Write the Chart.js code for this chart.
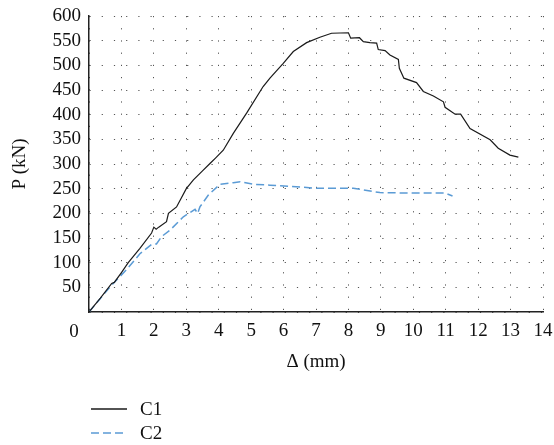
<!DOCTYPE html>
<html>
<head>
<meta charset="utf-8">
<style>
  html, body { margin: 0; padding: 0; background: #fff; }
  #wrap { width: 554px; height: 445px; }
</style>
</head>
<body>
<div id="wrap">
  <canvas id="curve"></canvas>
</div>

<script src="https://cdn.jsdelivr.net/npm/chart.js"></script>

<script>
  // load-displacement readings (delta in mm, P in kN)
  const c1X = [0, 0.35, 0.7, 0.78, 1.0, 1.21, 1.57, 1.93, 2.0, 2.07, 2.15, 2.39, 2.45, 2.7, 3.0, 3.22, 3.5, 3.73, 3.9, 4.14, 4.45, 4.86, 5.37, 5.58, 5.99, 6.3, 6.71, 7.12, 7.48, 8.0, 8.07, 8.34, 8.46, 8.66, 8.87, 8.92, 9.13, 9.28, 9.54, 9.57, 9.71, 10.1, 10.31, 10.62, 10.93, 10.98, 11.29, 11.46, 11.75, 12.37, 12.62, 12.98, 13.24];
  const c1Y = [0, 28, 58, 60, 80, 100, 129, 160, 172, 168, 172, 183, 200, 213, 250, 268, 286, 301, 312, 328, 362, 403, 457, 474, 504, 528, 546, 557, 565, 566, 555, 556, 548, 546, 545, 532, 530, 521, 512, 494, 474, 465, 447, 438, 426, 415, 401, 401, 372, 349, 332, 318, 314];

  const c2X = [0, 0.65, 1.16, 1.57, 1.93, 2.08, 2.24, 2.5, 2.91, 3.27, 3.35, 3.42, 3.68, 4.04, 4.45, 4.66, 5.07, 5.58, 7.02, 8.15, 8.97, 10.0, 10.98, 11.21];
  const c2Y = [0, 51, 86, 118, 137, 138, 153, 166, 193, 208, 200, 213, 237, 259, 262, 264, 259, 257, 251, 251, 242, 241, 241, 235];

  const seriesNames = ['C1', 'C2'];
  const xTitle = 'Δ (mm)';
  const yTitle = 'P (kN)';

  const pts = (xs, ys) => xs.map((x, i) => ({ x: x, y: ys[i] }));
  const serif = "'Liberation Serif', 'DejaVu Serif', serif";
  const fs = 19;

  // origin "0" and the stacked legend under the axis title
  const extras = {
    id: 'extras',
    afterDraw(chart) {
      const { ctx, chartArea } = chart;
      ctx.save();
      ctx.font = fs + 'px ' + serif;
      ctx.fillStyle = '#111';
      ctx.textBaseline = 'middle';
      ctx.textAlign = 'center';
      ctx.fillText('0', chartArea.left - 15, chartArea.bottom + 20);

      ctx.textAlign = 'left';
      chart.data.datasets.forEach((ds, i) => {
        const y = 409 + i * 24;
        ctx.beginPath();
        ctx.strokeStyle = ds.borderColor;
        ctx.lineWidth = 1.5;
        ctx.setLineDash(ds.borderDash || []);
        ctx.moveTo(91, y);
        ctx.lineTo(127, y);
        ctx.stroke();
        ctx.setLineDash([]);
        ctx.fillText(ds.label, 140, y + 1);
      });
      ctx.restore();
    }
  };

  new Chart(document.getElementById('curve'), {
    type: 'scatter',
    data: {
      datasets: [{
        label: seriesNames[0],
        data: pts(c1X, c1Y),
        showLine: true,
        borderColor: '#1a1a1a',
        borderWidth: 1.2,
        pointRadius: 0,
        tension: 0
      }, {
        label: seriesNames[1],
        data: pts(c2X, c2Y),
        showLine: true,
        borderColor: '#5b9bd5',
        borderWidth: 1.5,
        borderDash: [8, 4],
        pointRadius: 0,
        tension: 0
      }]
    },
    options: {
      responsive: true,
      maintainAspectRatio: false,
      animation: false,
      layout: { padding: { top: 16, right: 11, bottom: 53, left: 0 } },
      plugins: {
        legend: { display: false },
        tooltip: { enabled: false }
      },
      scales: {
        x: {
          type: 'linear',
          min: 0,
          max: 14,
          afterFit: (s) => {
            s.height = 80;
            s.paddingLeft = 0;
            s.paddingRight = 0;
          },
          ticks: {
            stepSize: 1,
            autoSkip: false,
            maxRotation: 0,
            padding: 8,
            color: '#111',
            font: { family: serif, size: fs },
            callback: (v) => (v === 0 ? '' : v)
          },
          grid: { color: '#555', lineWidth: 1, drawTicks: false },
          border: { display: true, color: '#222', width: 1.5, dash: [1.2, 11] },
          title: {
            display: true,
            text: xTitle,
            color: '#111',
            font: { family: serif, size: fs },
            padding: { top: 0, bottom: 19 }
          }
        },
        y: {
          min: 0,
          max: 600,
          afterFit: (s) => {
            s.width = 89;
            s.paddingTop = 0;
            s.paddingBottom = 0;
          },
          ticks: {
            stepSize: 50,
            autoSkip: false,
            padding: 8,
            color: '#111',
            font: { family: serif, size: fs },
            callback: (v) => (v === 0 ? '' : v)
          },
          grid: { color: '#555', lineWidth: 1, drawTicks: false },
          border: { display: true, color: '#222', width: 1.5, dash: [1.2, 11] },
          title: {
            display: true,
            text: yTitle,
            color: '#111',
            font: { family: serif, size: fs },
            padding: { top: 9, bottom: 0 }
          }
        }
      }
    },
    plugins: [extras]
  });
</script>
</body>
</html>
